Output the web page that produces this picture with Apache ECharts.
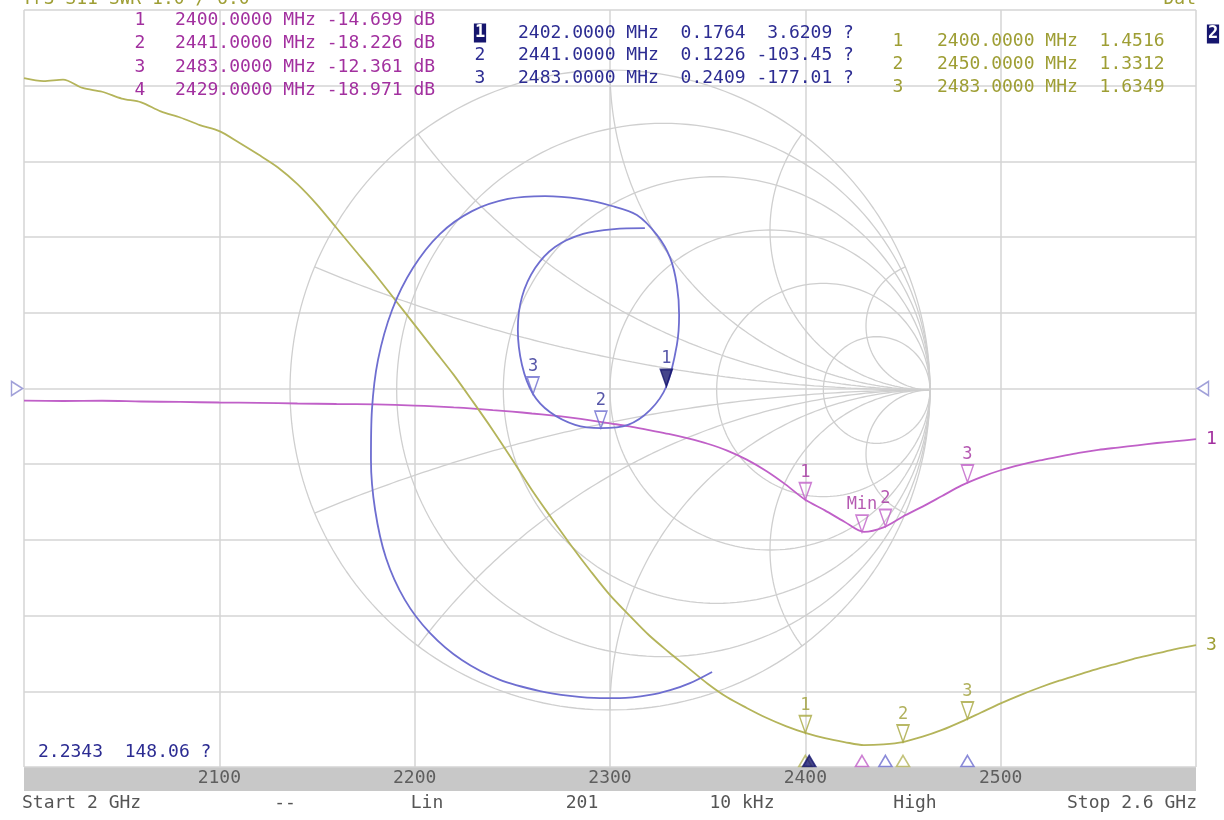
<!DOCTYPE html>
<html><head><meta charset="utf-8">
<script src="https://cdn.jsdelivr.net/npm/echarts@6/dist/echarts.min.js"></script>
<style>html,body{margin:0;padding:0;background:#fff}#c{width:1224px;height:820px}</style>
</head><body><div id="c"></div>
<script>
// ---- Trace 1: S11 log magnitude (dB) ----
const freqMag = [2000,2020,2040,2060,2080,2100,2120,2140,2160,2180,2200,2210,2220,2230,2240,2250,2260,2270,2280,2290,2300,2310,2320,2330,2340,2350,2360,2370,2380,2390,2400,2410,2420,2430,2440,2450,2460,2470,2480,2490,2500,2510,2520,2530,2540,2550,2560,2570,2580,2590,2600];
const s11dB   = [-1.6,-1.65,-1.62,-1.72,-1.78,-1.85,-1.9,-1.98,-2.05,-2.1,-2.25,-2.35,-2.5,-2.65,-2.85,-3.05,-3.3,-3.55,-3.85,-4.2,-4.6,-5.0,-5.5,-6.0,-6.6,-7.3,-8.2,-9.4,-10.9,-12.7,-14.7,-16.1,-17.6,-18.95,-18.35,-16.9,-15.6,-14.2,-12.8,-11.7,-10.8,-10.1,-9.5,-9.0,-8.5,-8.1,-7.8,-7.5,-7.2,-6.95,-6.7];

// ---- Trace 3: S11 SWR ----
const freqSwr = [2000,2010,2020,2030,2040,2050,2060,2070,2080,2090,2100,2110,2120,2130,2140,2150,2160,2170,2180,2190,2200,2210,2220,2230,2240,2250,2260,2270,2280,2290,2300,2310,2320,2330,2340,2350,2360,2370,2380,2390,2400,2410,2420,2430,2440,2450,2460,2470,2480,2490,2500,2510,2520,2530,2540,2550,2560,2570,2580,2590,2600];
const swr     = [10.10,10.06,10.08,9.97,9.92,9.83,9.78,9.66,9.58,9.48,9.40,9.25,9.09,8.92,8.70,8.43,8.12,7.81,7.50,7.17,6.84,6.51,6.18,5.82,5.45,5.06,4.66,4.29,3.93,3.59,3.27,3.00,2.74,2.52,2.31,2.10,1.92,1.78,1.65,1.54,1.45,1.38,1.33,1.29,1.30,1.33,1.40,1.49,1.60,1.72,1.84,1.95,2.05,2.14,2.22,2.30,2.37,2.44,2.50,2.56,2.61];

// ---- Trace 2: S11 Smith (reflection coefficient, real / imag) ----
const smithRe = [0.319,0.250,0.188,0.125,0.031,-0.031,-0.125,-0.219,-0.344,-0.463,-0.563,-0.641,-0.700,-0.734,-0.747,-0.744,-0.725,-0.681,-0.616,-0.531,-0.431,-0.319,-0.203,-0.094,0.006,0.084,0.147,0.188,0.209,0.216,0.209,0.176,0.125,0.056,-0.0285,-0.109,-0.188,-0.2406,-0.275,-0.288,-0.275,-0.234,-0.172,-0.084,0.013,0.109];
const smithIm = [-0.881,-0.916,-0.938,-0.953,-0.963,-0.963,-0.956,-0.941,-0.906,-0.844,-0.759,-0.656,-0.525,-0.375,-0.219,-0.063,0.094,0.250,0.381,0.488,0.559,0.597,0.606,0.597,0.575,0.547,0.484,0.413,0.328,0.234,0.141,0.011,-0.063,-0.109,-0.1192,-0.109,-0.069,-0.0126,0.078,0.188,0.291,0.381,0.447,0.488,0.503,0.506];

// ---- Markers ----
const magMkFreq = [2400,2429,2441,2483];
const magMkVal  = [-14.699,-18.971,-18.226,-12.361];
const magMkName = ['1','Min','2','3'];
const swrMkFreq = [2400,2450,2483];
const swrMkVal  = [1.4516,1.3312,1.6349];
const swrMkName = ['1','2','3'];
const smMkFreq  = [2402,2441,2483];
const smMkMag   = [0.1764,0.1226,0.2409];
const smMkAng   = [3.6209,-103.45,-177.01];
const smMkName  = ['1','2','3'];

// ---- Labels ----
const xTicks = [2100,2200,2300,2400,2500];
const magRows = [['1','2400.0000 MHz -14.699 dB'],['2','2441.0000 MHz -18.226 dB'],['3','2483.0000 MHz -12.361 dB'],['4','2429.0000 MHz -18.971 dB']];
const smRows  = [['1','2402.0000 MHz  0.1764  3.6209 ?'],['2','2441.0000 MHz  0.1226 -103.45 ?'],['3','2483.0000 MHz  0.2409 -177.01 ?']];
const swrRows = [['1','2400.0000 MHz  1.4516'],['2','2450.0000 MHz  1.3312'],['3','2483.0000 MHz  1.6349']];
const footer  = [['Start 2 GHz',22,'left'],['--',285,'center'],['Lin',427,'center'],['201',582,'center'],['10 kHz',742,'center'],['High',915,'center'],['Stop 2.6 GHz',1197,'right']];

const MAG='#c060c8', MAGT='#a2309f', OLV='#b4b45a', OLVT='#9e9e34', BLU='#6e6ed0', BLUT='#2c2c92', NAV='#16166e', GRD='#d4d4d4';
const FONT='"DejaVu Sans Mono", monospace';

// Smith chart grid (chart furniture)
function arc(cx,cy,r,t0,t1,n){const p=[];for(let i=0;i<=n;i++){const t=t0+(t1-t0)*i/n;p.push([cx+r*Math.cos(t),cy+r*Math.sin(t)]);}return p;}
const smithGrid=[];
smithGrid.push(arc(0,0,1,0,2*Math.PI,240));
[0.2,0.5,1,2,5].forEach(r=>smithGrid.push(arc(r/(1+r),0,1/(1+r),0,2*Math.PI,200)));
[0.2,0.5,1,2,5].forEach(x=>{
  const gx=(x*x-1)/(x*x+1), gy=2*x/(x*x+1);
  let ti=Math.atan2(gy-1/x,gx-1); if(ti<0) ti+=2*Math.PI;
  const up=arc(1,1/x,1/x,ti,1.5*Math.PI,120);
  smithGrid.push(up);
  smithGrid.push(up.map(p=>[p[0],-p[1]]));
});

const series=[];
smithGrid.forEach(d=>series.push({type:'line',xAxisIndex:1,yAxisIndex:2,data:d,showSymbol:false,silent:true,
  lineStyle:{color:'#cfcfcf',width:1.3},z:1,animation:false}));

series.push({type:'line',name:'S11 dB',xAxisIndex:0,yAxisIndex:0,data:freqMag.map((f,i)=>[f,s11dB[i]]),
  showSymbol:false,smooth:0.3,lineStyle:{color:MAG,width:1.8},z:4,
  endLabel:{show:true,formatter:'1',color:MAGT,fontSize:18,fontFamily:FONT,distance:10}});
series.push({type:'line',name:'SWR',xAxisIndex:0,yAxisIndex:1,data:freqSwr.map((f,i)=>[f,swr[i]]),
  showSymbol:false,smooth:0.3,lineStyle:{color:OLV,width:1.8},z:4,
  endLabel:{show:true,formatter:'3',color:OLVT,fontSize:18,fontFamily:FONT,distance:10}});
series.push({type:'line',name:'Smith',xAxisIndex:1,yAxisIndex:2,data:smithRe.map((r,i)=>[r,smithIm[i]]),
  showSymbol:false,smooth:0.3,lineStyle:{color:BLU,width:1.8},z:4});

const DOWN='path://M0,0L10,0L5,14Z', UP='path://M5,0L10,14L0,14Z';
function mk(col,fill,lab){return {symbol:DOWN,symbolSize:[12,17],symbolOffset:[0,-8.5],
  itemStyle:{color:fill,borderColor:col,borderWidth:1.6},
  label:{show:true,position:'top',distance:1,formatter:'{b}',color:lab,fontSize:17,fontFamily:FONT},z:6};}
series.push(Object.assign({type:'scatter',xAxisIndex:0,yAxisIndex:0,
  data:magMkFreq.map((f,i)=>({name:magMkName[i],value:[f,magMkVal[i]]}))},mk(MAG,'rgba(255,255,255,0)',MAGT)));
series.push(Object.assign({type:'scatter',xAxisIndex:0,yAxisIndex:1,
  data:swrMkFreq.map((f,i)=>({name:swrMkName[i],value:[f,swrMkVal[i]]}))},mk('#a8a840','rgba(255,255,255,0)',OLVT)));
series.push(Object.assign({type:'scatter',xAxisIndex:1,yAxisIndex:2,
  data:smMkMag.map((m,i)=>{const a=smMkAng[i]*Math.PI/180;
    return {name:smMkName[i],value:[m*Math.cos(a),m*Math.sin(a)],
      itemStyle:i===0?{color:NAV,borderColor:NAV}:undefined};})},mk(BLU,'rgba(255,255,255,0)',BLUT)));

// marker indicators on the frequency band
const bandMk=[[2400,OLV,'rgba(255,255,255,0)'],[2402,NAV,NAV],[2429,MAG,'rgba(255,255,255,0)'],[2441,BLU,'rgba(255,255,255,0)'],[2450,OLV,'rgba(255,255,255,0)'],[2483,BLU,'rgba(255,255,255,0)']];
series.push({type:'scatter',xAxisIndex:0,yAxisIndex:0,symbol:UP,symbolSize:[13,11],symbolOffset:[0,-6],z:7,
  data:bandMk.map(b=>({value:[b[0],-50],itemStyle:{color:b[2],borderColor:b[1],borderWidth:1.6}}))});
// reference level indicators
series.push({type:'scatter',xAxisIndex:0,yAxisIndex:0,symbol:'triangle',symbolSize:[14,11],z:7,
  itemStyle:{color:'rgba(255,255,255,0)',borderColor:'#8a8ad0',borderWidth:1.6},
  data:[{value:[2000,0],symbolRotate:-90,symbolOffset:[-7,0]},{value:[2600,0],symbolRotate:90,symbolOffset:[7,0]}]});

const graphic=[];
graphic.push({type:'rect',z:-10,shape:{x:24,y:767,width:1172,height:24},style:{fill:'#c8c8c8'}});
function txt(t,x,y,col,align,extra){graphic.push(Object.assign({type:'text',z:10,style:{text:t,x:x,y:y,fill:col,font:'18px '+FONT,align:align||'left',verticalAlign:'middle'}},extra||{}));}
txt('Tr3 S11 SWR 1.0 / 6.0',22,-1,OLVT);
txt('Dat',1196,-1,OLVT,'right');
magRows.forEach((r,i)=>{txt(r[0],140,20+i*23.5,MAGT,'center');txt(r[1],175,20+i*23.5,MAGT);});
smRows.forEach((r,i)=>{ if(i===0){graphic.push({type:'text',z:10,style:{text:r[0],x:480,y:33,fill:'#fff',font:'bold 17px '+FONT,align:'center',verticalAlign:'middle',backgroundColor:NAV,padding:[1,1]}});}
  else txt(r[0],480,33+i*22.5,BLUT,'center'); txt(r[1],518,33+i*22.5,BLUT);});
swrRows.forEach((r,i)=>{txt(r[0],898,41+i*23,OLVT,'center');txt(r[1],937,41+i*23,OLVT);});
graphic.push({type:'text',z:10,style:{text:'2',x:1213,y:34,fill:'#fff',font:'bold 17px '+FONT,align:'center',verticalAlign:'middle',backgroundColor:NAV,padding:[1,1]}});
txt('2.2343  148.06 ?',38,752,BLUT);
footer.forEach(f=>txt(f[0],f[1],803,'#555',f[2]));

const chart=echarts.init(document.getElementById('c'),null,{renderer:'canvas'});
chart.setOption({
  animation:false,backgroundColor:'#fff',
  grid:[{left:24,top:10,width:1172,height:757},{left:290,top:70,width:640,height:640}],
  xAxis:[
    {type:'value',gridIndex:0,min:2000,max:2600,interval:100,
     axisLine:{show:false},axisTick:{show:false},
     axisLabel:{show:true,showMinLabel:false,showMaxLabel:false,margin:2,color:'#5e5e5e',fontSize:18,fontFamily:FONT,
       formatter:v=>xTicks.indexOf(v)>=0?String(v):''},
     splitLine:{show:true,lineStyle:{color:GRD,width:1.5}}},
    {type:'value',gridIndex:1,min:-1,max:1,show:false}
  ],
  yAxis:[
    {type:'value',gridIndex:0,min:-50,max:50,interval:10,axisLine:{show:false},axisTick:{show:false},axisLabel:{show:false},
     splitLine:{show:true,lineStyle:{color:GRD,width:1.5}}},
    {type:'value',gridIndex:0,min:1,max:11,interval:1,axisLine:{show:false},axisTick:{show:false},axisLabel:{show:false},splitLine:{show:false}},
    {type:'value',gridIndex:1,min:-1,max:1,show:false}
  ],
  series:series,
  graphic:graphic
});
</script></body></html>
